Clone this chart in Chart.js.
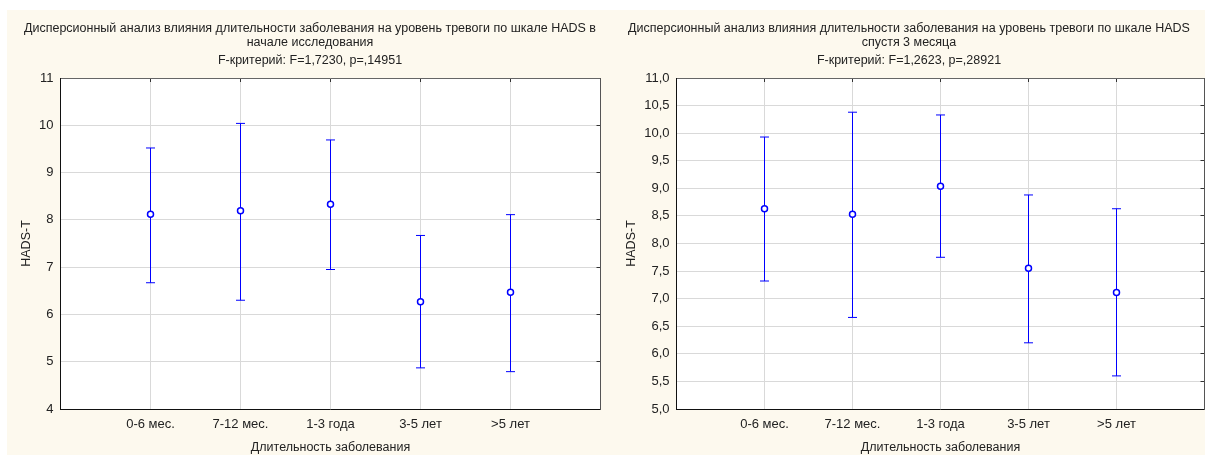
<!DOCTYPE html>
<html lang="ru">
<head>
  <meta charset="UTF-8">
  <title>HADS-T</title>
  <script src="https://cdn.jsdelivr.net/npm/chart.js"></script>
  <style>
    body { margin: 0; background: #fff; width: 1205px; height: 455px; position: relative; overflow: hidden; }
    canvas { position: absolute; top: 10px; background: #fdf9ee; }
    #left { left: 7px; }
    #right { left: 613px; }
  </style>
</head>
<body>
  <canvas id="left" width="606" height="445"></canvas>
  <canvas id="right" width="592" height="445"></canvas>

  <script>
    const categories = ["0-6 мес.", "7-12 мес.", "1-3 года", "3-5 лет", ">5 лет"];

    // начало исследования
    const meanStart = [8.12, 8.19, 8.33, 6.27, 6.47];
    const lowStart  = [6.67, 6.30, 6.95, 4.87, 4.79];
    const highStart = [9.52, 10.04, 9.69, 7.67, 8.11];
    const yTicksStart = [4, 5, 6, 7, 8, 9, 10, 11];

    // спустя 3 месяца
    const mean3m = [8.63, 8.53, 9.04, 7.55, 7.11];
    const low3m  = [7.32, 6.66, 7.75, 6.20, 5.60];
    const high3m = [9.93, 10.38, 10.33, 8.88, 8.63];
    const yTicks3m = [5, 5.5, 6, 6.5, 7, 7.5, 8, 8.5, 9, 9.5, 10, 10.5, 11];

    const FONT = "'Liberation Sans', Arial, sans-serif";
    const TXT = "#222";
    const BLUE = "#0000ff";

    const whiteArea = {
      id: "whiteArea",
      beforeDraw(chart) {
        const a = chart.chartArea, ctx = chart.ctx;
        ctx.save();
        ctx.fillStyle = "#fff";
        ctx.fillRect(a.left, a.top, a.right - a.left, a.bottom - a.top);
        ctx.restore();
      }
    };

    function makeChart(id, o) {
      const xTicks = s => { s.ticks = categories.map((c, i) => ({ value: i + 1 })); };
      const yTicks = s => { s.ticks = o.yTicks.map(v => ({ value: v })); };
      const f = { family: FONT, size: 12.5 };
      const tf = { family: FONT, size: 13 };

      const bars = [];
      categories.forEach((c, i) => {
        bars.push({ x: i + 1, y: o.low[i] }, { x: i + 1, y: o.high[i] }, { x: i + 1, y: null });
      });

      new Chart(document.getElementById(id), {
        type: "line",
        data: {
          datasets: [
            {
              data: o.mean.map((v, i) => ({ x: i + 1, y: v })),
              showLine: false,
              pointStyle: "circle",
              pointRadius: 3,
              pointBorderWidth: 1.5,
              pointBorderColor: BLUE,
              pointBackgroundColor: "#fff"
            },
            {
              data: bars,
              spanGaps: false,
              borderColor: BLUE,
              borderWidth: 1,
              pointStyle: "line",
              pointRadius: 4.5,
              pointBorderWidth: 1,
              pointBorderColor: BLUE
            }
          ]
        },
        options: {
          responsive: false,
          animation: false,
          devicePixelRatio: 1,
          layout: { padding: 0, autoPadding: false },
          plugins: {
            legend: { display: false },
            tooltip: { enabled: false },
            title: {
              display: true,
              text: o.title,
              color: TXT,
              font: { family: FONT, size: 12.5, weight: "normal", lineHeight: "14px" },
              padding: { top: 12, bottom: 0 }
            },
            subtitle: {
              display: true,
              text: o.sub,
              color: TXT,
              font: { family: FONT, size: 12.5, weight: "normal", lineHeight: "14px" },
              padding: { top: 4, bottom: 10 }
            }
          },
          scales: {
            x: {
              type: "linear", position: "bottom", min: 0, max: 6,
              afterBuildTicks: xTicks,
              afterFit: s => { s.height = 46; },
              ticks: { callback: v => categories[v - 1], color: TXT, font: tf, padding: 8, autoSkip: false, maxRotation: 0 },
              grid: { color: "#d9d9d9", drawTicks: false },
              border: { color: "#111", width: 1 },
              title: { display: true, text: "Длительность заболевания", color: TXT, font: f, padding: { top: 0, bottom: 0 } }
            },
            x2: {
              type: "linear", position: "top", min: 0, max: 6,
              afterBuildTicks: xTicks,
              afterFit: s => { s.height = 0; },
              ticks: { display: false },
              grid: { drawOnChartArea: false, tickLength: -4, tickColor: "#333" },
              border: { color: "#666", width: 1 }
            },
            y: {
              type: "linear", position: "left", min: o.yTicks[0], max: o.yTicks[o.yTicks.length - 1],
              afterBuildTicks: yTicks,
              afterFit: s => { s.width = o.left; },
              ticks: { callback: o.fmt, color: TXT, font: tf, padding: 7 },
              grid: { color: "#d9d9d9", drawTicks: false },
              border: { color: "#111", width: 1 },
              title: { display: true, text: "HADS-T", color: TXT, font: f, padding: { top: o.ytPad, bottom: 0 } }
            },
            y2: {
              type: "linear", position: "right", min: o.yTicks[0], max: o.yTicks[o.yTicks.length - 1],
              afterBuildTicks: yTicks,
              afterFit: s => { s.width = o.right; },
              ticks: { display: false },
              grid: { drawOnChartArea: false, tickLength: -4, tickColor: "#333" },
              border: { color: "#555", width: 1 }
            }
          }
        },
        plugins: [whiteArea]
      });
    }

    makeChart("left", {
      title: ["Дисперсионный анализ влияния длительности заболевания на уровень тревоги по шкале HADS в", "начале исследования"],
      sub: "F-критерий: F=1,7230, p=,14951",
      mean: meanStart, low: lowStart, high: highStart, yTicks: yTicksStart,
      fmt: v => String(v),
      left: 53.5, right: 12.5, ytPad: 12.5
    });

    makeChart("right", {
      title: ["Дисперсионный анализ влияния длительности заболевания на уровень тревоги по шкале HADS", "спустя 3 месяца"],
      sub: "F-критерий: F=1,2623, p=,28921",
      mean: mean3m, low: low3m, high: high3m, yTicks: yTicks3m,
      fmt: v => v.toFixed(1).replace(".", ","),
      left: 63.5, right: 0.5, ytPad: 11.5
    });
  </script>
</body>
</html>
